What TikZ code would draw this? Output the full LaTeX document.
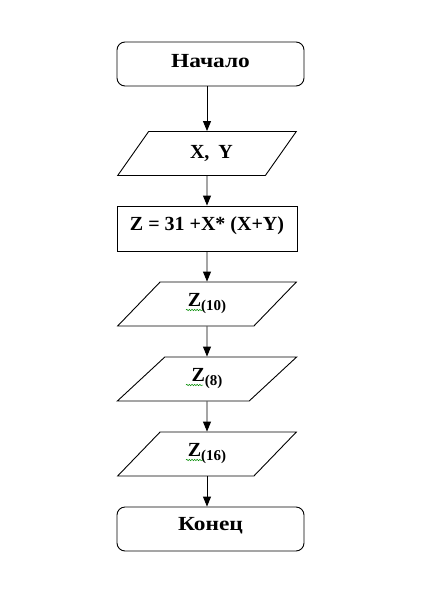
\documentclass[tikz,border=0pt]{standalone}
\usepackage{graphicx}
\usepackage{fontspec}
\setmainfont{Liberation Serif}
\usetikzlibrary{arrows.meta,shapes.geometric,decorations.pathmorphing}
\newcommand{\zsub}[1]{Z\raisebox{-4pt}{\fontsize{15}{15}\selectfont(#1)}}
\newcommand{\cyrwide}[1]{\scalebox{1.17}[1]{#1}}
\begin{document}
\begin{tikzpicture}[x=1pt,y=-1pt,
  every node/.style={font=\fontsize{20}{21}\selectfont\bfseries, inner sep=0pt, text height=13.2pt},
  term/.style={draw, line width=0.9pt, rounded corners=8pt, minimum width=187pt, minimum height=44pt},
  proc/.style={draw, line width=0.9pt, minimum width=180pt, minimum height=45pt},
  io/.style={draw, line width=0.9pt, trapezium, trapezium stretches=true, trapezium left angle=50.7, trapezium right angle=129.3, minimum width=180pt, minimum height=44pt},
  flow/.style={line width=0.9pt, -{Triangle[length=10pt,width=8pt]}},
  squig/.style={draw=green!55!black, line width=0.5pt, decorate, decoration={snake, amplitude=0.7pt, segment length=2.6pt}}
]
\useasboundingbox (0,0) rectangle (431,595);
\fill[white] (0,0) rectangle (431,595);

\node[term, text depth=6pt] (start) at (210.5,64) {\cyrwide{Начало}};
\node[io, text depth=3.6pt] (xy) at (207,153.5) {\hspace{9pt}X,\hspace{0.45em}Y};
\node[proc, text depth=10pt] (calc) at (207,228.5) {Z = 31 +X* (X+Y)};
\node[io, text depth=8pt] (z10) at (207,304) {\zsub{10}};
\node[io, text depth=8pt] (z8) at (207,379) {\zsub{8}};
\node[io, text depth=8pt] (z16) at (207,454) {\zsub{16}};
\node[term, text depth=10pt] (end) at (210.5,529) {\cyrwide{Конец}};

\draw[flow] (xy.north |- start.south) -- (xy.north);
\draw[flow] (xy.south) -- (calc.north);
\draw[flow] (calc.south) -- (z10.north);
\draw[flow] (z10.south) -- (z8.north);
\draw[flow] (z8.south) -- (z16.north);
\draw[flow] (z16.south) -- (z16.south |- end.north);

\foreach \n in {z10, z8, z16} {
  \draw[squig] ([xshift=-21pt,yshift=-6pt]\n.center) -- ([xshift=-4pt,yshift=-6pt]\n.center);
}
\end{tikzpicture}
\end{document}
